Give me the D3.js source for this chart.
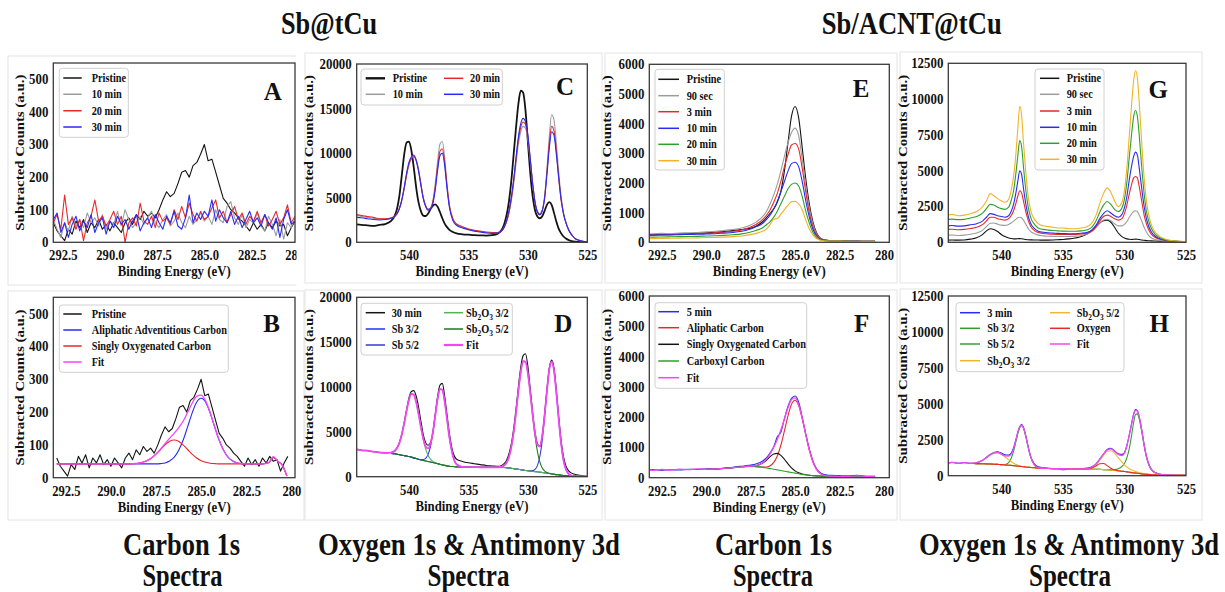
<!DOCTYPE html>
<html>
<head>
<meta charset="utf-8">
<script src="https://cdn.jsdelivr.net/npm/d3@7"></script>
<style>
  html, body { margin: 0; padding: 0; background: #fff; }
  svg text { font-family: 'Liberation Serif', 'Times New Roman', serif; font-weight: bold; fill: #111; }
  .sqc { transform-box: fill-box; transform-origin: center; transform: scaleX(0.9); }
  .sqr { transform-box: fill-box; transform-origin: right center; transform: scaleX(0.92); }
  .sql { transform-box: fill-box; transform-origin: left center; transform: scaleX(0.86); }
</style>
</head>
<body>
<svg id="fig" width="1225" height="592"></svg>
<script>
// ---------- Carbon 1s, Sb@tCu (A, B) ----------
const eA = [293.0,292.8,292.6,292.4,292.2,292.0,291.8,291.6,291.4,291.2,291.0,290.8,290.6,290.4,290.2,
  290.0,289.8,289.6,289.4,289.2,289.0,288.8,288.6,288.4,288.2,288.0,287.8,287.6,287.4,287.2,
  287.0,286.8,286.6,286.4,286.2,286.0,285.8,285.6,285.4,285.2,285.0,284.8,284.6,284.4,284.2,
  284.0,283.8,283.6,283.4,283.2,283.0,282.8,282.6,282.4,282.2,282.0,281.8,281.6,281.4,281.2,
  281.0,280.8,280.6,280.4,280.2];
const pristineA = [60,35,20,5,40, 25,65,45,70,30, 60,45,70,40,55, 35,60,45,30,60, 75,55,85,70,95,
  80,90,75,100,130, 155,140,150,180,215, 220,200,235,245,270, 300,250,255,215,175,
  135,120,100,90,75, 65,50,35,60,40, 55,35,60,45,65, 50,55,20,45,65];
const min10A = [70,40,15,60,35, 80,50,70,45,90, 60,75,50,85,40, 65,55,95,50,100, 70,45,60,80,55,
  75,95,60,45,70, 85,50,65,90,60, 45,80,55,70,90, 65,80,55,100,70,
  60,110,125,75,55, 85,45,70,60,90, 50,35,80,55,20, 70,10,60,45,75];
const min20A = [60,85,40,145,55, 75,40,70,5,60, 80,130,65,80,50, 70,95,55,80,0, 60,75,50,120,65,
  55,80,45,90,65, 75,55,100,70,110, 75,120,85,65,95, 70,80,105,130,75,
  95,60,85,110,70, 90,55,80,65,95, 60,85,50,70,95, 55,75,115,60,80];
const min30A = [70,90,30,60,15, 55,80,35,65,45, 85,30,60,75,25, 65,45,80,55,70, 40,65,85,35,60,
  75,45,85,60,40, 80,60,95,50,40, 75,145,60,90,70, 95,80,130,65,100,
  75,60,95,55,80, 45,70,95,60,75, 50,85,60,40,75, 15,70,100,55,65];

const eBfit = [293.0,292.75,292.5,292.25,292.0,291.75,291.5,291.25,291.0,290.75,290.5,290.25,
  290.0,289.75,289.5,289.25,289.0,288.75,288.5,288.25,288.0,287.75,287.5,287.25,
  287.0,286.75,286.5,286.25,286.0,285.75,285.5,285.25,285.0,284.75,284.5,284.25,
  284.0,283.75,283.5,283.25,283.0,282.75,282.5,282.25,282.0,281.75,281.5,281.25,
  281.0,280.75,280.5,280.25];
const aliphaticB = [42,42,42,42,42,42,42,42,42,42,42,42,42,42,42,42,42,42,42,42,42,42,42,
  43,45,51,62,83, 114,155,197,230,242, 230,197,155,114,83, 62,51,45,43,42,
  42,42,42,43,46, 62,50,38,5];
const singlyB = [42,42,42,42,42,42,42,42,42,42,42,42,42,42,42,42,42,
  43,44,47,52,60,72,86,100,111,115,111,100,86,72,60,52,47,44,43,
  42,42,42,42,42,42,42,42,42,42, 43,46,62,50,38,5];
const fitB = [42,42,42,42,42,42,42,42,42,42,42,42,42,42,42,42,42,
  43,44,47,52,60,72,87,104,120,135,152,172,199,227,248,252,234,199,155,114,83,62,51,45,43,
  42,42,42,42, 43,46,64,50,38,5];

// ---------- O 1s & Sb 3d, Sb@tCu (C, D) ----------
const eC = [544.4,544.0,543.5,543.0,542.5, 542.0,541.5,541.2,541.0,540.8, 540.6,540.4,540.2,540.0,539.8,
  539.6,539.4,539.2,539.0,538.8, 538.6,538.4,538.2,538.0,537.8, 537.6,537.4,537.2,537.0,536.8,
  536.6,536.3,536.0,535.5,535.0, 534.5,534.0,533.5,533.0,532.5, 532.2,532.0,531.8,531.6,531.4,
  531.2,531.0,530.8,530.6,530.4, 530.2,530.0,529.8,529.6,529.4, 529.2,529.0,528.8,528.6,528.4,
  528.2,528.0,527.8,527.6,527.4, 527.2,527.0,526.8,526.6,526.4, 526.2,526.0,525.7,525.4,525.0];
const pristineC = [2000,1950,1900,1850,1950, 2050,2400,3000,3800,5300, 7600,9900,11200,11300,10300,
  8400,6200,4500,3500,3000, 2950,3200,3700,4100,4250, 4000,3400,2700,2100,1700,
  1400,1150,1000,900,850, 800,780,760,800,1000, 1400,2000,3000,4500,6800,
  9800,12800,15500,17000,16800, 14800,11300,7800,5200,3600, 2900,2700,2900,3500,4200,
  4500,4200,3300,2300,1500, 1000,650,420,270,170, 110,80,50,30,20];
const min10C = [3000,2900,2800,2700,2600, 2600,2700,2900,3200,3800, 4700,6000,7500,8700,9400,
  9700,9300,8200,6600,5000, 4100,3700,3800,4600,6500, 9000,11000,11300,9500,6500,
  4200,2600,2000,1700,1450, 1300,1200,1100,1050,1080, 1300,1650,2300,3200,4600,
  6500,8800,11000,12400,13000, 12800,11500,9200,6600,4600, 3500,3200,3600,5100,8200,
  11800,14300,13700,11000,7800, 5100,3300,2200,1500,1000, 650,400,220,100,40];
const min20C = [3100,3000,2900,2800,2650, 2650,2750,2950,3250,3850, 4800,6100,7600,8800,9400,
  9600,9200,8100,6500,5000, 4100,3700,3800,4500,6100, 8400,10200,10500,9000,6300,
  4100,2600,2050,1750,1500, 1350,1250,1150,1100,1100, 1300,1650,2300,3300,4800,
  6800,9200,11500,12900,13500, 13200,11800,9300,6600,4500, 3400,3100,3500,4900,7800,
  11000,13000,12500,10200,7100, 4700,3200,2200,1500,1000, 650,400,220,100,40];
const min30C = [2800,2750,2650,2550,2500, 2550,2700,2900,3200,3800, 4800,6200,7800,9000,9600,
  9800,9200,8000,6400,4900, 4000,3600,3700,4300,5800, 8000,9700,10000,8600,6000,
  3900,2400,1900,1600,1400, 1250,1150,1050,1000,1050, 1300,1700,2400,3500,5000,
  7000,9500,11800,13300,13900, 13500,12000,9400,6600,4500, 3400,3100,3500,4800,7500,
  10500,12400,12000,9800,7200, 4800,3200,2200,1500,1000, 650,400,220,100,40];

const min30D = [3050,2950,2900,2800,2700, 2650,2700,2900,3250,3850, 4800,6100,7500,8800,9500,
  9600,9000,7800,6200,4700, 3800,3500,3800,4900,6900, 8900,10200,10400,9000,6900,
  4800,2700,1950,1700,1550, 1450,1350,1250,1200,1150, 1250,1450,1800,2500,3600,
  5300,7500,10000,12200,13500, 13700,12300,9800,7200,5000, 3700,3350,4500,6900,9700,
  12100,13000,12100,9600,6600, 4000,2200,1200,700,450, 320,250,170,100,50];
const sb32D = [null,null,null,null,null,null, 2600,2550,2500,2450,
  2400,2350,2300,2250,2180, 2100,2020,1950,1880,1914, 2051,2461,3333,4786,6710,
  8589,9759,9699,8399,6400, 4376,2284,1391,1093,1070, 1060,1055,1050,1045,1040,
  1030,1020,1000,970,940, 900,860,820,780,740, 700,660,630,600,570,
  540,510,470,430,390, 350,310,270,230,200, 170,140,120,100,85, 70,60,45,30,20];
const sb52D = [null,null,null,null,null,null, 2600,2550,2500,2450,
  2400,2350,2300,2250,2180, 2100,2020,1950,1880,1820, 1760,1700,1640,1580,1520,
  1450,1380,1320,1260,1210, 1170,1130,1100,1080,1070, 1060,1055,1050,1045,1040,
  1030,1020,1000,970,940, 900,860,820,780,740, 700,660,649,675,820,
  1240,2198,3945,6518,9465, 11888,12810,11808,9305,6288, 3645,1828,820,350,160, 89,60,45,30,20];
const ox32D = [null,null,null,null,null,null, 2679,2865,3186,3787,
  4724,5968,7355,8556,9230, 9150,8326,7005,5498,4144, 3097,2386,1955,1709,1568,
  1466,1380,1320,1260,1210, 1170,1130,1100,1080,1070, 1060,1055,1050,1045,1040,
  1030,1020,1000,970,940, 900,860,820,780,740, 700,660,630,600,570,
  540,510,470,430,390, 350,310,270,230,200, 170,140,120,100,85, 70,60,45,30,20];
const ox52D = [null,null,null,null,null,null, 2600,2550,2500,2450,
  2400,2350,2300,2250,2180, 2100,2020,1950,1880,1820, 1760,1700,1640,1580,1520,
  1450,1380,1320,1260,1210, 1170,1130,1100,1080,1070, 1060,1055,1050,1045,1055,
  1112,1241,1541,2151,3240, 4898,7084,9516,11629,12868, 12828,11509,9326,6824,4568,
  2840,1691,1011,651,472, 377,310,270,230,200, 170,140,120,100,85, 70,60,45,30,20];
const fitD = [3050,2950,2900,2800,2700, 2650,2680,2865,3186,3787, 4724,5968,7355,8556,9230,
  9150,8326,7011,5524,4238, 3388,3147,3648,4915,6758, 8605,9759,9699,8399,6400,
  4376,2284,1391,1093,1070, 1060,1055,1050,1045,1055, 1112,1241,1541,2151,3240,
  4898,7084,9516,11629,12868, 12828,11509,9345,6899,4818, 3540,3379,4486,6739,9547,
  11915,12818,11808,9305,6288, 3645,1828,820,350,160, 89,60,45,30,20];

// ---------- Carbon 1s, Sb/ACNT@tCu (E, F) ----------
const eE = [293.2,293.0,292.5,292.0,291.5, 291.0,290.5,290.0,289.5,289.0, 288.5,288.0,287.6,287.2,286.8,
  286.6,286.4,286.2,286.0,285.8, 285.6,285.4,285.2,285.0,284.8, 284.6,284.4,284.2,284.0,283.8,
  283.6,283.4,283.2,283.0,282.5, 282.0,281.5,281.0,280.5];
const pristineE = [250,255,265,270,285, 290,305,320,340,365, 395,430,460,540,710,
  840,980,1130,1350,1720, 2400,3350,4250,4580,4200, 3200,2150,1300,700,330, 150,90,70,60,50, 45,40,35,30];
const sec90E = [280,290,300,290,310, 320,330,350,370,400, 430,480,560,680,880,
  1050,1300,1600,1950,2400, 2900,3350,3700,3850,3600, 2800,1900,1150,620,300, 140,85,65,55,50, 45,40,35,30];
const min3E = [250,240,250,260,270, 280,290,300,320,340, 370,420,490,600,780,
  920,1100,1350,1650,2050, 2550,2950,3280,3330,3150, 2500,1700,1000,530,260, 130,80,65,55,50, 45,40,35,30];
const min10E = [250,240,250,250,260, 265,270,280,290,310, 330,370,430,520,650,
  770,920,1120,1380,1700, 2050,2400,2650,2700,2550, 2050,1400,850,450,220, 110,70,60,50,45, 40,40,35,30];
const min20E = [180,175,180,185,190, 195,200,210,220,235, 255,285,330,400,500,
  600,700,850,1050,1300, 1550,1800,1950,2000,1900, 1550,1050,650,340,170, 90,60,50,45,40, 40,35,30,30];
const min30E = [130,125,130,135,140, 145,150,160,165,175, 190,215,250,300,380,
  450,600,780,800,950, 1100,1250,1370,1380,1300, 1100,750,450,250,130, 75,50,45,40,40, 35,35,30,30];

const min5F = [250,270,240,265,255, 280,270,295,285,320, 345,380,410,450,560,
  660,820,1020,1350,1500, 1950,2350,2620,2700,2500, 2000,1450,950,560,300, 170,110,90,80,70, 60,80,50,45];
const aliphaticF = [null,null,null,null,null,null,null, 280,290,305,330,360,
  375,365,351,355,394, 504,718,1071,1543,2043, 2427,2560,2386,1961,1425,
  916,530,284,149,85, 59,49,42,40,38, 35,33];
const singlyF = [null,null,null,null,null,null,null, 280,290,305,330,360,
  378,396,492,585,696, 783,803,738,609,457, 323,224,161,121,98,
  80,70,60,55,50, 48,45,42,40,38, 35,33];
const carboxylF = [null,null,null,null,null,null,null, 280,290,305,330,360,
  375,365,340,320,300, 280,258,235,213,192, 171,150,130,110,95,
  80,70,60,55,50, 48,45,42,40,38, 35,33];
const fitF = [260,240,270,250,280, 265,290,280,290,305, 330,360,378,396,503,
  620,790,1007,1263,1574, 1939,2308,2579,2634,2417, 1972,1428,916,530,284, 149,85,59,49,45, 45,60,45,40];

// ---------- O 1s & Sb 3d, Sb/ACNT@tCu (G, H) ----------
const eG = [544.3,544.0,543.5,543.0,542.5, 542.0,541.5,541.2,540.9,540.6, 540.3,540.0,539.7,539.4,539.2,
  539.0,538.8,538.65,538.5,538.35, 538.2,538.0,537.8,537.6,537.3, 537.0,536.6,536.2,535.8,535.4,
  535.0,534.5,534.0,533.5,533.0, 532.6,532.3,532.0,531.7,531.4, 531.1,530.8,530.5,530.2,530.0,
  529.8,529.6,529.4,529.25,529.1, 528.95,528.8,528.6,528.4,528.2, 528.0,527.8,527.5,527.2,526.9,
  526.6,526.2,525.8,525.4,525.0];
const pristineG = [150,160,150,160,220, 320,550,800,950,900, 750,550,400,300,260,
  240,240,250,260,250, 230,200,180,170,160, 160,150,150,160,180, 200,240,300,400,600,
  850,1100,1350,1500,1550, 1400,1050,650,400,300, 240,210,200,210,220,
  210,190,160,140,120, 110,100,90,80,70, 60,50,45,40,35];
const sec90G = [500,510,480,500,560, 650,850,1100,1330,1350, 1270,1200,1180,1250,1350,
  1480,1620,1720,1750,1700, 1550,1250,950,750,600, 500,450,420,410,400, 400,410,430,480,580,
  780,1050,1350,1550,1600, 1500,1300,1150,1150,1250, 1450,1750,2000,2150,2200,
  2150,1900,1500,1050,700, 450,300,200,140,100, 80,60,50,40,35];
const min3G = [900,910,880,900,960, 1050,1250,1500,1750,1750, 1650,1600,1550,1650,1850,
  2200,2750,3250,3600,3450, 2900,2100,1500,1100,820, 680,620,580,560,550, 540,540,550,580,650,
  820,1100,1500,1800,1900, 1800,1650,1550,1650,2000, 2600,3400,4100,4500,4600,
  4500,3900,2900,1900,1250, 820,550,340,230,160, 120,90,60,50,40];
const min10G = [1150,1170,1130,1150,1220, 1300,1500,1750,2000,1950, 1850,1800,1750,1850,2150,
  2650,3500,4300,5000,4750, 3800,2650,1800,1300,950, 780,700,660,640,620, 610,600,600,630,700,
  900,1200,1650,2000,2200, 2050,1850,1750,1950,2400, 3200,4400,5400,6000,6300,
  6100,5200,3800,2500,1600, 1050,700,420,280,200, 140,100,70,55,45];
const min20G = [1600,1620,1580,1600,1700, 1800,2050,2350,2650,2600, 2450,2350,2300,2450,2900,
  3600,4900,6100,7100,6700, 5300,3600,2400,1700,1250, 1000,900,850,820,800, 780,770,770,800,880,
  1100,1500,2100,2600,2850, 2650,2300,2150,2400,3000, 4200,6000,7700,8800,9200,
  8800,7500,5300,3400,2100, 1400,950,560,360,250, 170,110,80,60,50];
const min30G = [1900,1950,1850,1900,2000, 2150,2500,2900,3400,3250, 3050,2900,2800,3000,3600,
  4600,6300,8000,9500,8900, 7000,4800,3100,2200,1600, 1300,1150,1100,1050,1000, 1000,950,950,1000,1100,
  1400,1900,2700,3400,3800, 3500,2900,2500,2800,3600, 5200,7500,9800,11300,12000,
  11500,9800,7000,4500,2800, 1800,1200,700,450,300, 200,130,90,70,50];

const min3H = [880,930,860,910,860, 900,1070,1280,1480,1620, 1660,1580,1460,1440,1560,
  1950,2550,3050,3400,3580, 3350,2750,1950,1300,800, 620,560,520,500,480, 410,470,490,500,530,
  640,830,1150,1500,1820, 1900,1720,1520,1480,1600, 2100,2850,3700,4300,4600,
  4520,4100,3200,2150,1300, 760,430,220,120,80, 60,40,30,25,20];
const sb32H = [null,null,null,null, 850, 840,830,820,810,800, 785,770,781,918,1194,
  1704,2410,2948,3346,3485, 3316,2707,1935,1280,738, 561,515,505,495,490, 485,480,475,470,465,
  460,450,440,425,410, 390,365,340,310,290, 265,240,215,195,180,
  165,150,130,110,95, 80,70,55,45,40, 35,30,28,25,22];
const sb52H = [null,null,null,null, 850, 840,830,820,810,800, 785,770,750,730,715,
  700,680,665,650,635, 620,600,585,570,550, 530,515,505,495,490, 485,480,475,470,465,
  460,450,440,425,420, 420,420,480,650,850, 1250,1900,2900,3700,4250,
  4300,3950,3100,2100,1250, 700,400,200,110,70, 50,35,28,25,22];
const ox32H = [null,null,null,null, 863, 913,1083,1251,1437,1576, 1603,1505,1313,1120,990,
  862,777,728,689,658, 633,606,587,570,550, 530,515,505,495,490, 485,480,475,470,465,
  460,450,440,425,410, 390,365,340,310,290, 265,240,215,195,180,
  165,150,130,110,95, 80,70,55,45,40, 35,30,28,25,22];
const ox52H = [null,null,null,null, 850, 840,830,820,810,800, 785,770,750,730,715,
  700,680,665,650,635, 620,600,585,570,550, 530,515,505,495,490, 485,480,475,470,470,
  560,760,1080,1420,1700, 1740,1550,1250,950,760, 600,490,400,350,300,
  260,220,180,140,110, 90,75,58,45,40, 35,30,28,25,22];
const oxygenH = [null,null,null,null, 850, 840,830,820,810,800, 785,770,750,730,715,
  700,680,665,650,635, 620,600,585,570,550, 530,515,505,495,490, 485,480,475,470,477,
  549,682,830,845,700, 518,402,347,310,290, 265,240,215,195,180,
  165,150,130,110,95, 80,70,55,45,40, 35,30,28,25,22];
const fitH = [880,930,860,910,863, 913,1083,1251,1437,1576, 1603,1506,1380,1370,1480,
  1866,2507,3011,3385,3508, 3329,2713,1937,1280,738, 561,516,505,495,490, 485,480,475,470,490,
  620,820,1150,1500,1800, 1870,1700,1480,1400,1560, 2100,2850,3650,4250,4550,
  4500,4100,3200,2150,1300, 750,420,210,115,75, 55,40,30,25,22];

// ---------- axis ticks and labels ----------
const ticksCarbon = [292.5, 290, 287.5, 285, 282.5, 280];
const tickTextCarbonA = ['292.5', '290.0', '287.5', '285.0', '282.5', '280.0'];
const tickTextCarbon = ['292.5', '290.0', '287.5', '285.0', '282.5', '280'];
const ticksSb = [540, 535, 530, 525];
const tickTextSb = ['540', '535', '530', '525'];
const yTicksA = [0, 100, 200, 300, 400, 500];
const yTicksC = [0, 5000, 10000, 15000, 20000];
const yTicksE = [0, 1000, 2000, 3000, 4000, 5000, 6000];
const yTicksG = [0, 2500, 5000, 7500, 10000, 12500];

const legendA = ['Pristine', '10 min', '20 min', '30 min'];
const legendB = ['Pristine', 'Aliphatic Adventitious Carbon', 'Singly Oxygenated Carbon', 'Fit'];
const legendC = ['Pristine', '10 min', '20 min', '30 min'];
const legendD = ['30 min', 'Sb 3/2', 'Sb 5/2', 'Sb_2O_3 3/2', 'Sb_2O_3 5/2', 'Fit'];
const legendE = ['Pristine', '90 sec', '3 min', '10 min', '20 min', '30 min'];
const legendF = ['5 min', 'Aliphatic Carbon', 'Singly Oxygenated Carbon', 'Carboxyl Carbon', 'Fit'];
const legendG = ['Pristine', '90 sec', '3 min', '10 min', '20 min', '30 min'];
const legendH = ['3 min', 'Sb 3/2', 'Sb 5/2', 'Sb_2O_3 3/2', 'Sb_2O_3 5/2', 'Oxygen', 'Fit'];

// ---------- drawing ----------
const COL = {
  black: '#141414', gray: '#9c9c9c', red: '#e8292b', blue: '#2a2af2',
  green: '#2ca02c', lgreen: '#52b452', dgreen: '#1d7a1d', gold: '#f4b226',
  magenta: '#f247f2', blue2: '#3a3ad0'
};

const svg = d3.select('#fig');
const defs = svg.append('defs');

// "_d" marks a subscript digit in a legend label
function richText(sel, str) {
  const parts = str.split(/_(\d)/);
  let shift = 0;
  parts.forEach((p, i) => {
    if (!p) return;
    const isSub = i % 2 === 1;
    const target = isSub ? 3 : 0;
    const ts = sel.append('tspan').attr('dy', target - shift).text(p);
    if (isSub) ts.attr('font-size', '0.72em');
    shift = target;
  });
}

function drawPanel(p, idx) {
  const x = d3.scaleLinear().domain(p.xDomain).range([p.x0, p.x1]);
  const y = d3.scaleLinear().domain(p.yDomain).range([p.y1, p.y0]);
  const root = svg.append('g');
  if (p.cut) {
    defs.append('clipPath').attr('id', 'cut' + idx).append('rect')
      .attr('x', p.cut[0]).attr('y', p.cut[1]).attr('width', p.cut[2]).attr('height', p.cut[3]);
    root.attr('clip-path', `url(#cut${idx})`);
  }
  // subfigure card
  root.append('rect').attr('x', p.card[0]).attr('y', p.card[1])
    .attr('width', p.card[2]).attr('height', p.card[3])
    .attr('fill', 'none').attr('stroke', '#e4e4e4').attr('stroke-width', 1);

  // spectra
  defs.append('clipPath').attr('id', 'plot' + idx).append('rect')
    .attr('x', p.x0).attr('y', p.y0).attr('width', p.x1 - p.x0).attr('height', p.y1 - p.y0);
  const plot = root.append('g').attr('clip-path', `url(#plot${idx})`);
  const line = (curve) => d3.line()
    .defined(d => d[1] != null)
    .x(d => x(d[0])).y(d => y(d[1]))
    .curve(curve);
  p.series.forEach(s => {
    const pts = s.e.map((e, i) => [e, s.v[i]]);
    plot.append('path').datum(pts)
      .attr('fill', 'none').attr('stroke', s.c).attr('stroke-width', s.w || 1.1)
      .attr('stroke-linejoin', 'round')
      .attr('d', line(s.linear ? d3.curveLinear : d3.curveMonotoneX));
  });

  // frame
  root.append('rect').attr('x', p.x0).attr('y', p.y0)
    .attr('width', p.x1 - p.x0).attr('height', p.y1 - p.y0)
    .attr('fill', 'none').attr('stroke', '#3a3a3a').attr('stroke-width', 1.3);

  // axes
  const xa = root.append('g').attr('transform', `translate(0,${p.y1})`)
    .call(d3.axisBottom(x).tickValues(p.xTicks).tickFormat((d, i) => p.xText[i]).tickSize(0));
  xa.select('.domain').remove();
  xa.selectAll('text').attr('y', 18).attr('dy', null).attr('font-size', 14).attr('class', 'sqc');

  const ya = root.append('g').attr('transform', `translate(${p.x0},0)`)
    .call(d3.axisLeft(y).tickValues(p.yTicks).tickFormat(d3.format('d')).tickSize(0).tickPadding(5));
  ya.select('.domain').remove();
  ya.selectAll('text').attr('font-size', 14).attr('class', 'sqr');

  root.append('text').attr('x', (p.x0 + p.x1) / 2).attr('y', p.y1 + 34)
    .attr('text-anchor', 'middle').attr('font-size', 15)
    .attr('textLength', 113).attr('lengthAdjust', 'spacingAndGlyphs')
    .text('Binding Energy (eV)');
  root.append('text')
    .attr('transform', `translate(${p.ylx},${(p.y0 + p.y1) / 2}) scale(0.85,1) rotate(-90)`)
    .attr('text-anchor', 'middle').attr('font-size', 15)
    .attr('textLength', 156).attr('lengthAdjust', 'spacingAndGlyphs')
    .text('Subtracted Counts (a.u.)');

  // legend
  const L = p.legend;
  root.append('rect').attr('x', L.box[0]).attr('y', L.box[1])
    .attr('width', L.box[2]).attr('height', L.box[3]).attr('rx', 3)
    .attr('fill', '#fff').attr('fill-opacity', 0.9).attr('stroke', '#d0d0d0').attr('stroke-width', 1);
  p.series.forEach((s, i) => {
    const pos = L.place[i];
    const col = L.cols[pos[0]];
    const ry = L.rows[pos[1]];
    root.append('line').attr('x1', col[0]).attr('x2', col[1]).attr('y1', ry).attr('y2', ry)
      .attr('stroke', s.c).attr('stroke-width', s.lw || 1.5);
    const t = root.append('text').attr('x', col[2]).attr('y', ry + 4).attr('font-size', 12).attr('class', 'sql');
    richText(t, L.labels[i]);
  });

  // panel letter
  root.append('text').attr('x', p.letterAt[0]).attr('y', p.letterAt[1] + 8.5)
    .attr('text-anchor', 'middle').attr('font-size', 25).text(p.letter);
}

const rowsAB = [78, 94.3, 110.7, 127];
const panels = [
  { letter: 'A', letterAt: [272.7, 91.7], card: [8, 56, 296, 229], cut: [0, 40, 296.5, 260],
    x0: 53.3, x1: 295, y0: 63, y1: 242.3, ylx: 24,
    xDomain: [293.0, 280.2], yDomain: [0, 550], xTicks: ticksCarbon, xText: tickTextCarbonA, yTicks: yTicksA,
    series: [
      { e: eA, v: pristineA, c: COL.black, linear: true },
      { e: eA, v: min10A, c: COL.gray, linear: true },
      { e: eA, v: min20A, c: COL.red, linear: true },
      { e: eA, v: min30A, c: COL.blue, linear: true }],
    legend: { box: [59.3, 68.3, 69, 69], cols: [[63.3, 81.7, 91.7]], rows: rowsAB,
      place: [[0, 0], [0, 1], [0, 2], [0, 3]], labels: legendA } },
  { letter: 'B', letterAt: [271.7, 323.3], card: [8, 291, 296, 229],
    x0: 53.3, x1: 295, y0: 297.3, y1: 477.7, ylx: 24,
    xDomain: [293.19, 279.8], yDomain: [0, 550], xTicks: ticksCarbon, xText: tickTextCarbon, yTicks: yTicksA,
    series: [
      { e: eA, v: pristineA, c: COL.black, linear: true },
      { e: eBfit, v: aliphaticB, c: COL.blue },
      { e: eBfit, v: singlyB, c: COL.red },
      { e: eBfit, v: fitB, c: COL.magenta, w: 1.3 }],
    legend: { box: [59.3, 305, 169, 67.3], cols: [[63.3, 81.7, 91.7]], rows: [314, 330, 346, 362],
      place: [[0, 0], [0, 1], [0, 2], [0, 3]], labels: legendB } },
  { letter: 'C', letterAt: [565, 86.7], card: [305, 53, 297, 230],
    x0: 356.7, x1: 587.3, y0: 64, y1: 242.3, ylx: 313,
    xDomain: [544.4, 525], yDomain: [0, 20000], xTicks: ticksSb, xText: tickTextSb, yTicks: yTicksC,
    series: [
      { e: eC, v: pristineC, c: COL.black, w: 1.8, lw: 2.4 },
      { e: eC, v: min10C, c: COL.gray },
      { e: eC, v: min20C, c: COL.red },
      { e: eC, v: min30C, c: COL.blue }],
    legend: { box: [361, 69, 141.3, 36], cols: [[365.7, 385, 392.7], [444, 463.3, 470]], rows: [78.3, 94.3],
      place: [[0, 0], [0, 1], [1, 0], [1, 1]], labels: legendC } },
  { letter: 'D', letterAt: [563.3, 323.3], card: [305, 290, 297, 230],
    x0: 356.7, x1: 587.3, y0: 297.3, y1: 476.7, ylx: 313,
    xDomain: [544.4, 525], yDomain: [0, 20000], xTicks: ticksSb, xText: tickTextSb, yTicks: yTicksC,
    series: [
      { e: eC, v: min30D, c: COL.black },
      { e: eC, v: sb32D, c: '#2233ee' },
      { e: eC, v: sb52D, c: COL.blue2 },
      { e: eC, v: ox32D, c: COL.lgreen },
      { e: eC, v: ox52D, c: COL.dgreen },
      { e: eC, v: fitD, c: COL.magenta, w: 1.8, lw: 2.2 }],
    legend: { box: [361, 303.3, 151.3, 51.7], cols: [[365.7, 385, 391.7], [444, 463, 466]],
      rows: [312.7, 329, 345], place: [[0, 0], [0, 1], [0, 2], [1, 0], [1, 1], [1, 2]], labels: legendD } },
  { letter: 'E', letterAt: [861, 88.3], card: [605, 53, 292, 230],
    x0: 649.3, x1: 889.3, y0: 64.3, y1: 242.3, ylx: 611,
    xDomain: [293.2, 279.7], yDomain: [0, 6000], xTicks: ticksCarbon, xText: tickTextCarbon, yTicks: yTicksE,
    series: [
      { e: eE, v: pristineE, c: COL.black },
      { e: eE, v: sec90E, c: COL.gray },
      { e: eE, v: min3E, c: COL.red },
      { e: eE, v: min10E, c: COL.blue },
      { e: eE, v: min20E, c: COL.green },
      { e: eE, v: min30E, c: COL.gold }],
    legend: { box: [655, 69.3, 69.3, 100.7], cols: [[658.3, 679, 686.7]],
      rows: [79.3, 95.7, 111.7, 128.3, 144.3, 160.7],
      place: [[0, 0], [0, 1], [0, 2], [0, 3], [0, 4], [0, 5]], labels: legendE } },
  { letter: 'F', letterAt: [861.7, 323.3], card: [605, 290, 292, 230],
    x0: 649.3, x1: 889.3, y0: 296, y1: 477.7, ylx: 611,
    xDomain: [293.2, 279.7], yDomain: [0, 6000], xTicks: ticksCarbon, xText: tickTextCarbon, yTicks: yTicksE,
    series: [
      { e: eE, v: min5F, c: COL.blue },
      { e: eE, v: aliphaticF, c: COL.red },
      { e: eE, v: singlyF, c: COL.black },
      { e: eE, v: carboxylF, c: COL.green },
      { e: eE, v: fitF, c: COL.magenta, w: 1.3 }],
    legend: { box: [655, 302.7, 151.7, 85.6], cols: [[658.3, 679, 686.7]],
      rows: [311.7, 327.7, 344.3, 361, 377.7],
      place: [[0, 0], [0, 1], [0, 2], [0, 3], [0, 4]], labels: legendF } },
  { letter: 'G', letterAt: [1158.3, 89.3], card: [900, 52, 302, 231],
    x0: 948.3, x1: 1186, y0: 63.3, y1: 242.3, ylx: 907,
    xDomain: [544.3, 525], yDomain: [0, 12500], xTicks: ticksSb, xText: tickTextSb, yTicks: yTicksG,
    series: [
      { e: eG, v: pristineG, c: COL.black },
      { e: eG, v: sec90G, c: COL.gray },
      { e: eG, v: min3G, c: COL.red },
      { e: eG, v: min10G, c: COL.blue },
      { e: eG, v: min20G, c: COL.green },
      { e: eG, v: min30G, c: COL.gold }],
    legend: { box: [1035, 69, 69, 101], cols: [[1040, 1059.3, 1066.7]],
      rows: [78.3, 94.3, 111, 127.3, 143.3, 159.3],
      place: [[0, 0], [0, 1], [0, 2], [0, 3], [0, 4], [0, 5]], labels: legendG } },
  { letter: 'H', letterAt: [1159.3, 323.3], card: [900, 289, 302, 231],
    x0: 948.3, x1: 1186, y0: 296, y1: 475.7, ylx: 907,
    xDomain: [544.3, 525], yDomain: [0, 12500], xTicks: ticksSb, xText: tickTextSb, yTicks: yTicksG,
    series: [
      { e: eG, v: min3H, c: COL.blue },
      { e: eG, v: sb32H, c: COL.green },
      { e: eG, v: sb52H, c: '#3c9c3c' },
      { e: eG, v: ox32H, c: COL.gold },
      { e: eG, v: ox52H, c: '#f0b838' },
      { e: eG, v: oxygenH, c: COL.red },
      { e: eG, v: fitH, c: COL.magenta, w: 1.3 }],
    legend: { box: [956, 302.7, 168, 69], cols: [[960, 980, 987.3], [1050, 1070, 1076.7]],
      rows: [312.7, 328.3, 344, 360.7],
      place: [[0, 0], [0, 1], [0, 2], [0, 3], [1, 0], [1, 1], [1, 2]], labels: legendH } }
];

panels.forEach(drawPanel);

// column headings and row captions
const head = [
  { t: 'Sb@tCu', x: 329, y: 34.3, w: 96 },
  { t: 'Sb/ACNT@tCu', x: 911.7, y: 34.3, w: 180 }
];
head.forEach(h => svg.append('text').attr('x', h.x).attr('y', h.y).attr('text-anchor', 'middle')
  .attr('font-size', 31).attr('textLength', h.w).attr('lengthAdjust', 'spacingAndGlyphs').text(h.t));

const captions = [
  { t: 'Carbon 1s', x: 181.5, y: 555, w: 117 },
  { t: 'Spectra', x: 182.5, y: 586, w: 80 },
  { t: 'Oxygen 1s & Antimony 3d', x: 469, y: 555, w: 302 },
  { t: 'Spectra', x: 468.5, y: 586, w: 82 },
  { t: 'Carbon 1s', x: 773.5, y: 555, w: 117 },
  { t: 'Spectra', x: 773, y: 586, w: 80 },
  { t: 'Oxygen 1s & Antimony 3d', x: 1069, y: 555, w: 300 },
  { t: 'Spectra', x: 1070, y: 586, w: 82 }
];
captions.forEach(c => svg.append('text').attr('x', c.x).attr('y', c.y).attr('text-anchor', 'middle')
  .attr('font-size', 31).attr('textLength', c.w).attr('lengthAdjust', 'spacingAndGlyphs').text(c.t));
</script>
</body>
</html>
